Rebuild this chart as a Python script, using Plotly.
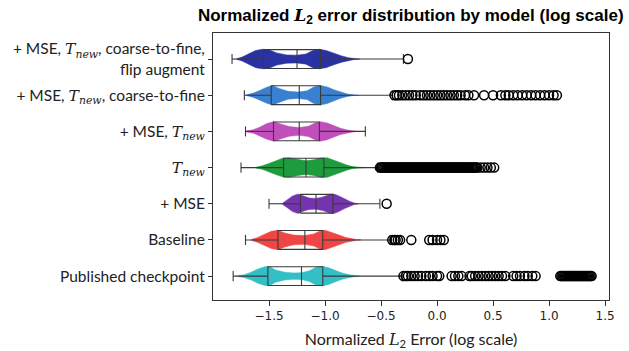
import plotly.graph_objects as go

# ---------------- data ----------------
TN = "<span style=\"font-family:'DejaVu Serif'\"><i>T</i><sub><i>new</i></sub></span>"
labels = [
    "Published checkpoint",
    "Baseline",
    "+ MSE",
    TN,
    "+ MSE, " + TN,
    "+ MSE, " + TN + ", coarse-to-fine",
    "+ MSE, " + TN + ", coarse-to-fine,<br>flip augment",
]
colors = ["#33bfc6", "#ef4545", "#7434ad", "#1d9b3d", "#c04fbb", "#3a80d0", "#2a31a2"]

q1 = [-1.51, -1.42, -1.22, -1.37, -1.46, -1.48, -1.55]
median = [-1.21, -1.18, -1.08, -1.17, -1.23, -1.23, -1.25]
q3 = [-1.02, -1.02, -0.93, -1.01, -1.05, -1.04, -1.04]
lowerfence = [-1.82, -1.71, -1.50, -1.75, -1.71, -1.72, -1.83]
upperfence = [-0.31, -0.42, -0.51, -0.53, -0.64, -0.40, -0.30]

# violin density profiles: x positions and relative half-widths
vx = [
    [-1.78, -1.72, -1.66, -1.60, -1.54, -1.50, -1.44, -1.36, -1.28, -1.21, -1.14, -1.08, -1.02, -0.96, -0.90, -0.84, -0.78, -0.73, -0.69],
    [-1.66, -1.60, -1.54, -1.48, -1.42, -1.36, -1.28, -1.18, -1.10, -1.04, -1.00, -0.94, -0.88, -0.82, -0.77, -0.72, -0.68],
    [-1.38, -1.34, -1.29, -1.24, -1.19, -1.14, -1.08, -1.02, -0.96, -0.92, -0.88, -0.83, -0.78, -0.74, -0.70],
    [-1.62, -1.56, -1.50, -1.44, -1.38, -1.32, -1.24, -1.17, -1.10, -1.04, -0.98, -0.92, -0.86, -0.80, -0.75, -0.70, -0.64],
    [-1.71, -1.64, -1.58, -1.52, -1.46, -1.40, -1.32, -1.23, -1.15, -1.09, -1.04, -0.98, -0.92, -0.86, -0.80, -0.75, -0.71],
    [-1.70, -1.64, -1.58, -1.52, -1.47, -1.41, -1.33, -1.24, -1.16, -1.10, -1.04, -0.98, -0.92, -0.86, -0.80, -0.75, -0.70],
    [-1.79, -1.74, -1.68, -1.62, -1.56, -1.50, -1.43, -1.34, -1.25, -1.17, -1.11, -1.05, -0.99, -0.92, -0.85, -0.79, -0.74, -0.69],
]
vw = [
    [0.04, 0.15, 0.40, 0.72, 0.95, 1.00, 0.62, 0.40, 0.33, 0.35, 0.55, 0.92, 1.00, 0.82, 0.55, 0.30, 0.14, 0.05, 0.01],
    [0.04, 0.25, 0.58, 0.88, 1.00, 0.72, 0.50, 0.45, 0.62, 0.95, 1.00, 0.80, 0.52, 0.27, 0.12, 0.04, 0.01],
    [0.05, 0.35, 0.80, 1.00, 0.75, 0.58, 0.55, 0.70, 0.95, 1.00, 0.82, 0.52, 0.25, 0.08, 0.01],
    [0.04, 0.18, 0.42, 0.72, 0.95, 1.00, 0.80, 0.70, 0.80, 0.98, 1.00, 0.78, 0.50, 0.25, 0.10, 0.04, 0.01],
    [0.04, 0.18, 0.45, 0.80, 1.00, 0.78, 0.50, 0.40, 0.52, 0.85, 1.00, 0.85, 0.58, 0.32, 0.14, 0.05, 0.01],
    [0.04, 0.22, 0.50, 0.82, 1.00, 0.70, 0.40, 0.33, 0.45, 0.85, 1.00, 0.85, 0.55, 0.30, 0.12, 0.04, 0.01],
    [0.03, 0.20, 0.55, 0.88, 1.00, 0.95, 0.62, 0.42, 0.40, 0.52, 0.88, 1.00, 0.88, 0.58, 0.32, 0.14, 0.05, 0.01],
]

outliers = [
    [-0.30, -0.28, -0.26, -0.23, -0.20, -0.17, -0.14, -0.10, -0.07, -0.04, 0.00, 0.02,
     0.13, 0.16, 0.19, 0.22, 0.29, 0.31, 0.34, 0.37, 0.40, 0.43, 0.46, 0.49, 0.52, 0.55, 0.58, 0.61,
     0.68, 0.71, 0.74, 0.78, 0.81, 0.85, 0.88,
     1.10, 1.11, 1.12, 1.13, 1.14, 1.15, 1.16, 1.17, 1.18, 1.19, 1.20, 1.21, 1.22, 1.23, 1.24,
     1.25, 1.26, 1.27, 1.28, 1.29, 1.30, 1.31, 1.32, 1.33, 1.34, 1.35, 1.36, 1.37, 1.38],
    [-0.40, -0.38, -0.37, -0.35, -0.33, -0.23, -0.07, -0.04, 0.00, 0.03, 0.06],
    [-0.45],
    [-0.51, -0.50, -0.49, -0.48, -0.47, -0.46, -0.45, -0.44, -0.43, -0.42, -0.41, -0.40, -0.39, -0.38,
     -0.37, -0.36, -0.35, -0.34, -0.33, -0.32, -0.31, -0.30, -0.29, -0.28, -0.27, -0.26, -0.25, -0.24,
     -0.23, -0.22, -0.21, -0.20, -0.19, -0.18, -0.17, -0.16, -0.15, -0.14, -0.13, -0.12, -0.11, -0.10,
     -0.09, -0.08, -0.07, -0.06, -0.05, -0.04, -0.03, -0.02, -0.01, 0.00, 0.01, 0.02, 0.03, 0.04,
     0.05, 0.06, 0.07, 0.08, 0.09, 0.10, 0.11, 0.12, 0.13, 0.14, 0.15, 0.16, 0.17, 0.18, 0.19, 0.20,
     0.21, 0.22, 0.23, 0.24, 0.25, 0.26, 0.27, 0.28, 0.29, 0.30, 0.31, 0.32, 0.33, 0.34, 0.35, 0.36,
     0.39, 0.42, 0.45, 0.48, 0.51],
    [],
    [-0.38, -0.36, -0.34, -0.31, -0.28, -0.25, -0.22, -0.19, -0.15, -0.12, -0.09, -0.06, -0.03, 0.00,
     0.03, 0.06, 0.09, 0.12, 0.15, 0.18, 0.21, 0.25, 0.28, 0.33, 0.42, 0.50, 0.57, 0.61, 0.64, 0.68,
     0.72, 0.76, 0.80, 0.84, 0.88, 0.92, 0.96, 1.00, 1.04, 1.07],
    [-0.26],
]

xticks = [-1.5, -1.0, -0.5, 0.0, 0.5, 1.0, 1.5]
xticktext = ["\u22121.5", "\u22121.0", "\u22120.5", "0.0", "0.5", "1.0", "1.5"]

# ---------------- figure ----------------
fig = go.Figure()
HALF = 0.27      # violin max half-width (y units)
BOXH = 0.26      # box half-height
CAPH = 0.14      # whisker cap half-height
positions = list(range(1, len(labels) + 1))

# violins
for i, pos in enumerate(positions):
    xs = vx[i]
    ws = vw[i]
    px = xs + xs[::-1]
    py = [pos + HALF * w for w in ws] + [pos - HALF * w for w in ws[::-1]]
    fig.add_trace(go.Scatter(x=px, y=py, fill="toself", fillcolor=colors[i],
                             line=dict(width=0.5, color=colors[i]), mode="lines",
                             hoverinfo="skip", showlegend=False))

# boxes (drawn as lines from the box statistics so they sit above the violins)
for i, pos in enumerate(positions):
    lo, hi = pos - BOXH, pos + BOXH
    bx = [q1[i], q3[i], q3[i], q1[i], q1[i], None,
          median[i], median[i], None,
          lowerfence[i], q1[i], None,
          q3[i], upperfence[i], None,
          lowerfence[i], lowerfence[i], None,
          upperfence[i], upperfence[i]]
    by = [lo, lo, hi, hi, lo, None,
          lo, hi, None,
          pos, pos, None,
          pos, pos, None,
          pos - CAPH, pos + CAPH, None,
          pos - CAPH, pos + CAPH]
    fig.add_trace(go.Scatter(x=bx, y=by, mode="lines",
                             line=dict(color="#3a3a3a", width=1.1),
                             hoverinfo="skip", showlegend=False))

# outliers
for i, pos in enumerate(positions):
    if outliers[i]:
        fig.add_trace(go.Scatter(
            x=outliers[i], y=[pos] * len(outliers[i]), mode="markers",
            marker=dict(symbol="circle-open", size=9, color="black", line=dict(width=1.5)),
            showlegend=False, hoverinfo="skip"))

fig.update_layout(
    width=629, height=351,
    margin=dict(l=213, r=20, t=33, b=51),
    paper_bgcolor="white", plot_bgcolor="white",
    title=dict(
        text="<b>Normalized <span style=\"font-family:'DejaVu Serif'\"><i>L</i></span><sub>2</sub> error distribution by model (log scale)</b>",
        x=0.653, xanchor="center", y=0.975, yanchor="top",
        font=dict(family="Liberation Sans, Arial", size=17, color="black")),
    font=dict(family="Lato", color="#222"),
)
fig.update_xaxes(
    range=[-2.0, 1.535], tickvals=xticks, ticktext=xticktext, automargin=False,
    ticks="outside", ticklen=5, tickcolor="#333",
    showline=True, linecolor="#333", linewidth=1, mirror=True, showgrid=False, zeroline=False,
    tickfont=dict(family="DejaVu Sans", size=12, color="#222"),
    title=dict(text="Normalized <span style=\"font-family:'DejaVu Serif'\"><i>L</i></span><sub>2</sub> Error (log scale)",
               font=dict(family="Lato", size=16, color="#222"), standoff=11),
)
fig.update_yaxes(
    range=[0.34, 7.72], tickvals=positions, ticktext=labels, automargin=False,
    ticks="outside", ticklen=4, tickcolor="#333",
    showline=True, linecolor="#333", linewidth=1, mirror=True, showgrid=False, zeroline=False,
    tickfont=dict(family="Lato", size=15.5, color="#222"),
)

fig.write_html("out.html")
